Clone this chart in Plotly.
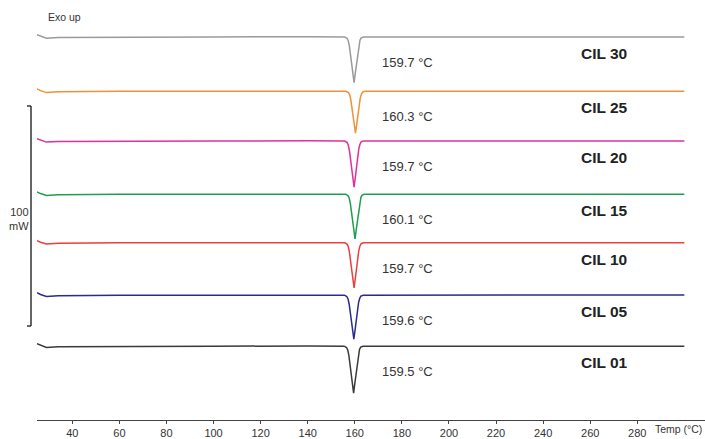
import plotly.graph_objects as go

# DSC heating curves (heat flow in mW, baseline near 0, endotherm downward)
samples = ["CIL 30", "CIL 25", "CIL 20", "CIL 15", "CIL 10", "CIL 05", "CIL 01"]
peak_temps = [159.7, 160.3, 159.7, 160.1, 159.7, 159.6, 159.5]
colors = ["#9a9a9a", "#f0903a", "#e0309a", "#1f9e50", "#e8403c", "#2c2a8c", "#3a3a3a"]

temp_cil30 = [25, 26.5, 29, 34, 60, 100, 140, 152, 155.7, 156.7, 157.2, 157.7, 158.2, 158.7, 159.2, 159.7,
              160.2, 160.7, 161.2, 161.7, 162.2, 162.7, 163.7, 170, 200, 250, 300]
hf_cil30 = [1.0, 0.3, -0.6, -0.2, 0.0, 0.0, 0.1, 0.05, 0.0, -0.6, -1.7, -4.2, -8.7, -12.9, -17.1, -20.8,
            -16.6, -12.1, -7.7, -3.5, -1.5, -0.4, 0.0, 0.0, 0.0, -0.1, 0.0]

temp_cil25 = [25, 26.5, 29, 34, 60, 100, 140, 152, 156.3, 157.3, 157.8, 158.3, 158.8, 159.3, 159.8, 160.3,
              160.8, 161.3, 161.8, 162.3, 162.8, 163.3, 164.3, 170, 200, 250, 300]
hf_cil25 = [1.1, 0.3, -0.6, -0.2, 0.0, 0.0, 0.0, 0.05, 0.0, -0.6, -1.5, -3.8, -8.0, -11.8, -15.6, -19.0,
            -15.2, -11.0, -7.0, -3.2, -1.3, -0.4, 0.0, 0.0, 0.0, 0.0, 0.0]

temp_cil20 = [25, 26.5, 29, 34, 60, 100, 140, 152, 155.7, 156.7, 157.2, 157.7, 158.2, 158.7, 159.2, 159.7,
              160.2, 160.7, 161.2, 161.7, 162.2, 162.7, 163.7, 170, 200, 250, 300]
hf_cil20 = [1.0, 0.3, -0.5, -0.2, 0.0, 0.0, 0.1, 0.05, 0.0, -0.6, -1.7, -4.2, -8.8, -13.0, -17.2, -21.0,
            -16.8, -12.2, -7.8, -3.6, -1.5, -0.4, 0.0, 0.0, 0.0, 0.0, 0.0]

temp_cil15 = [25, 26.5, 29, 34, 60, 100, 140, 152, 156.1, 157.1, 157.6, 158.1, 158.6, 159.1, 159.6, 160.1,
              160.6, 161.1, 161.6, 162.1, 162.6, 163.1, 164.1, 170, 200, 250, 300]
hf_cil15 = [1.1, 0.3, -0.6, -0.2, 0.0, 0.1, 0.1, 0.05, 0.0, -0.6, -1.6, -4.1, -8.5, -12.6, -16.6, -20.3,
            -16.2, -11.8, -7.5, -3.5, -1.4, -0.4, 0.0, 0.0, 0.0, 0.0, 0.0]

temp_cil10 = [25, 26.5, 29, 34, 60, 100, 140, 152, 155.7, 156.7, 157.2, 157.7, 158.2, 158.7, 159.2, 159.7,
              160.2, 160.7, 161.2, 161.7, 162.2, 162.7, 163.7, 170, 200, 250, 300]
hf_cil10 = [1.0, 0.3, -0.5, -0.2, 0.0, 0.0, 0.0, 0.05, 0.0, -0.6, -1.6, -4.1, -8.6, -12.7, -16.8, -20.5,
            -16.4, -11.9, -7.6, -3.5, -1.4, -0.4, 0.0, 0.0, 0.0, 0.0, 0.0]

temp_cil05 = [25, 26.5, 29, 34, 60, 100, 140, 152, 155.6, 156.6, 157.1, 157.6, 158.1, 158.6, 159.1, 159.6,
              160.1, 160.6, 161.1, 161.6, 162.1, 162.6, 163.6, 170, 200, 250, 300]
hf_cil05 = [1.1, 0.3, -0.6, -0.2, 0.0, 0.0, 0.1, 0.05, 0.0, -0.6, -1.6, -4.0, -8.4, -12.4, -16.4, -20.0,
            -16.0, -11.6, -7.4, -3.4, -1.4, -0.4, 0.0, 0.0, 0.0, 0.0, 0.1]

temp_cil01 = [25, 26.5, 29, 34, 60, 100, 140, 152, 155.5, 156.5, 157.0, 157.5, 158.0, 158.5, 159.0, 159.5,
              160.0, 160.5, 161.0, 161.5, 162.0, 162.5, 163.5, 170, 200, 250, 300]
hf_cil01 = [1.2, 0.4, -0.6, -0.2, 0.0, 0.0, 0.1, 0.05, 0.0, -0.6, -1.7, -4.3, -8.9, -13.2, -17.5, -21.3,
            -17.0, -12.4, -7.9, -3.6, -1.5, -0.4, 0.0, 0.0, 0.0, 0.0, 0.0]

temps = [temp_cil30, temp_cil25, temp_cil20, temp_cil15, temp_cil10, temp_cil05, temp_cil01]
heat_flows = [hf_cil30, hf_cil25, hf_cil20, hf_cil15, hf_cil10, hf_cil05, hf_cil01]

x_ticks = [40, 60, 80, 100, 120, 140, 160, 180, 200, 220, 240, 260, 280]

# vertical stacking offset of each curve (mW)
offsets = [174.2, 149.5, 126.9, 102.7, 80.6, 56.8, 33.6]
scale_bar_mw = 100
scale_bar_base = 42.8

W, H = 705, 439
FONT = "Liberation Sans, Arial, sans-serif"

fig = go.Figure()
for name, t, hf, off, col in zip(samples, temps, heat_flows, offsets, colors):
    fig.add_trace(go.Scatter(
        x=t, y=[v + off for v in hf], mode="lines", name=name,
        line=dict(color=col, width=1.5), hoverinfo="skip", showlegend=False,
    ))

annotations = []
for name, tp, off in zip(samples, peak_temps, offsets):
    annotations.append(dict(
        x=170.6, y=off - 11.5, xref="x", yref="y", text=f"{tp:.1f} °C",
        showarrow=False, xanchor="left", yanchor="middle",
        font=dict(family=FONT, size=13, color="#333333"),
    ))
    annotations.append(dict(
        x=255.4, y=off - 7.5, xref="x", yref="y", text=f"<b>{name}</b>",
        showarrow=False, xanchor="left", yanchor="middle",
        font=dict(family=FONT, size=15.5, color="#222222"),
    ))

annotations += [
    dict(x=46 / W, y=1 - 17 / H, xref="paper", yref="paper", text="Exo up",
         showarrow=False, xanchor="left", yanchor="middle",
         font=dict(family=FONT, size=10.5, color="#333333")),
    dict(x=31 / W, y=scale_bar_base + scale_bar_mw / 2 - 1.5, xref="paper", yref="y",
         text="100<br>mW", showarrow=False, xanchor="right", yanchor="middle", align="right",
         font=dict(family=FONT, size=11, color="#333333")),
    dict(x=653 / W, y=1 - 433 / H, xref="paper", yref="paper", text="Temp (°C)",
         showarrow=False, xanchor="left", yanchor="middle",
         font=dict(family=FONT, size=10.5, color="#333333")),
]

# 100 mW scale bracket
bx, bt = 31 / W, 27 / W
top = scale_bar_base + scale_bar_mw
shapes = [
    dict(type="line", xref="paper", yref="y", x0=bx, x1=bx, y0=scale_bar_base, y1=top,
         line=dict(color="#333333", width=1.5)),
    dict(type="line", xref="paper", yref="y", x0=bt, x1=bx, y0=top, y1=top,
         line=dict(color="#333333", width=1.5)),
    dict(type="line", xref="paper", yref="y", x0=bt, x1=bx, y0=scale_bar_base, y1=scale_bar_base,
         line=dict(color="#333333", width=1.5)),
]

fig.update_layout(
    width=W, height=H, margin=dict(l=0, r=0, t=0, b=0),
    paper_bgcolor="white", plot_bgcolor="white",
    annotations=annotations, shapes=shapes,
    xaxis=dict(
        domain=[37 / W, 1], range=[25, 25 + 668 / 2.354],
        tickvals=x_ticks, ticks="outside", ticklen=3, tickcolor="#444444",
        showline=True, linecolor="#444444", linewidth=1.2,
        showgrid=False, zeroline=False,
        tickfont=dict(family=FONT, size=11, color="#333333"),
    ),
    yaxis=dict(
        domain=[15 / H, 1], range=[0, 424 / 2.22],
        visible=False, showgrid=False, zeroline=False,
    ),
)

fig.write_html("out.html")
